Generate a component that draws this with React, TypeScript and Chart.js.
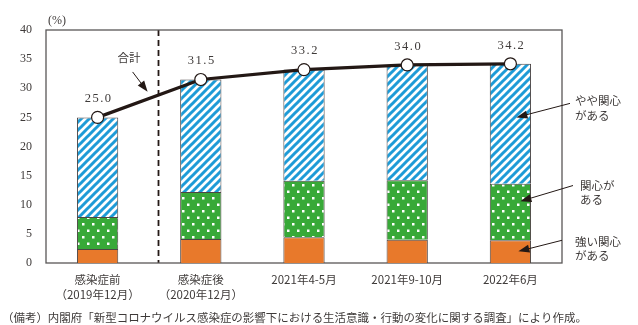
import React, { useEffect, useRef } from "react";
import { Chart, registerables } from "chart.js";

Chart.register(...registerables);

const categories: (string | string[])[] = [
  ["感染症前", "（2019年12月）"],
  ["感染症後", "（2020年12月）"],
  "2021年4-5月",
  "2021年9-10月",
  "2022年6月",
];
const strongInterest = [2.4, 4.1, 4.4, 4.0, 3.9];
const interest = [5.5, 8.1, 9.7, 10.2, 9.7];
const somewhatInterest = [17.1, 19.3, 19.1, 19.8, 20.6];
const total = [25.0, 31.5, 33.2, 34.0, 34.2];
const totalLabels = ["25.0", "31.5", "33.2", "34.0", "34.2"];
const yMax = 40;
const yStep = 5;
const footnote =
  "（備考）内閣府「新型コロナウイルス感染症の影響下における生活意識・行動の変化に関する調査」により作成。";

const SERIF = "'Liberation Serif', 'DejaVu Serif', 'Noto Sans CJK JP', serif";
const JP = "'Noto Sans CJK JP', sans-serif";
const TEXT = "#3e3a39";

function makeStripe(): CanvasPattern | string {
  const c = document.createElement("canvas");
  c.width = 8;
  c.height = 8;
  const g = c.getContext("2d");
  if (!g) return "#1e9bd7";
  g.fillStyle = "#ffffff";
  g.fillRect(0, 0, 8, 8);
  g.strokeStyle = "#1e9bd7";
  g.lineWidth = 3;
  g.beginPath();
  g.moveTo(-2, 2);
  g.lineTo(2, -2);
  g.moveTo(0, 8);
  g.lineTo(8, 0);
  g.moveTo(6, 10);
  g.lineTo(10, 6);
  g.stroke();
  return g.createPattern(c, "repeat") as CanvasPattern;
}

function makeDots(): CanvasPattern | string {
  const c = document.createElement("canvas");
  c.width = 10;
  c.height = 13;
  const g = c.getContext("2d");
  if (!g) return "#3aab3a";
  g.fillStyle = "#38a938";
  g.fillRect(0, 0, 10, 13);
  g.fillStyle = "#ffffff";
  g.fillRect(2, 2, 2.5, 2.5);
  g.fillRect(7, 8.5, 2.5, 2.5);
  return g.createPattern(c, "repeat") as CanvasPattern;
}

function arrow(ctx: CanvasRenderingContext2D, x1: number, y1: number, x2: number, y2: number) {
  const ang = Math.atan2(y2 - y1, x2 - x1);
  const len = 11;
  const half = 4;
  ctx.save();
  ctx.strokeStyle = "#231815";
  ctx.fillStyle = "#231815";
  ctx.lineWidth = 1;
  ctx.beginPath();
  ctx.moveTo(x1, y1);
  ctx.lineTo(x2 - Math.cos(ang) * len * 0.8, y2 - Math.sin(ang) * len * 0.8);
  ctx.stroke();
  ctx.beginPath();
  ctx.moveTo(x2, y2);
  const bx = x2 - Math.cos(ang) * len;
  const by = y2 - Math.sin(ang) * len;
  ctx.lineTo(bx + Math.sin(ang) * half, by - Math.cos(ang) * half);
  ctx.lineTo(bx - Math.sin(ang) * half, by + Math.cos(ang) * half);
  ctx.closePath();
  ctx.fill();
  ctx.restore();
}

const decorations = {
  id: "decorations",
  beforeDatasetsDraw(chart: any) {
    const { ctx, chartArea, scales } = chart;
    const x = scales.x;
    ctx.save();
    const dx = x.getPixelForValue(0) + (x.getPixelForValue(1) - x.getPixelForValue(0)) * 0.59;
    ctx.strokeStyle = "#231815";
    ctx.lineWidth = 1.8;
    ctx.setLineDash([6, 4]);
    ctx.beginPath();
    ctx.moveTo(Math.round(dx) + 0.5, chartArea.top);
    ctx.lineTo(Math.round(dx) + 0.5, chartArea.bottom);
    ctx.stroke();
    ctx.setLineDash([]);
    ctx.strokeStyle = "#595757";
    ctx.lineWidth = 1.3;
    ctx.strokeRect(chartArea.left, chartArea.top, chartArea.right - chartArea.left, chartArea.bottom - chartArea.top);
    ctx.restore();
  },
  afterDraw(chart: any) {
    const { ctx, chartArea, scales } = chart;
    const x = scales.x;
    const y = scales.y;
    ctx.save();
    ctx.fillStyle = TEXT;
    ctx.textBaseline = "middle";

    ctx.font = `12px ${SERIF}`;
    ctx.textAlign = "left";
    ctx.fillText("(%)", chartArea.left + 2, chartArea.top - 9);

    const meta = chart.getDatasetMeta(3);
    ctx.font = `12.5px ${SERIF}`;
    ctx.textAlign = "center";
    (ctx as any).letterSpacing = "1.5px";
    meta.data.forEach((pt: any, i: number) => {
      ctx.fillText(totalLabels[i], pt.x + 1, pt.y - 18.5);
    });
    (ctx as any).letterSpacing = "0px";

    ctx.font = `11.5px ${JP}`;
    ctx.textAlign = "left";
    ctx.fillText("合計", x.getPixelForValue(0) + 20, y.getPixelForValue(35.2));
    arrow(ctx, x.getPixelForValue(0) + 35, y.getPixelForValue(32.8), x.getPixelForValue(0) + 50, y.getPixelForValue(29.4));

    const tx = chartArea.right + 13;
    ctx.fillText("やや関心", tx, y.getPixelForValue(27.9));
    ctx.fillText("がある", tx, y.getPixelForValue(25.3));
    arrow(ctx, chartArea.right + 8, y.getPixelForValue(27.4), x.getPixelForValue(4) + 6, y.getPixelForValue(25.0));

    ctx.fillText("関心が", tx + 5, y.getPixelForValue(13.3));
    ctx.fillText("ある", tx + 5, y.getPixelForValue(10.9));
    arrow(ctx, chartArea.right + 11, y.getPixelForValue(13.3), x.getPixelForValue(4) + 10, y.getPixelForValue(10.6));

    ctx.fillText("強い関心", tx, y.getPixelForValue(3.7));
    ctx.fillText("がある", tx, y.getPixelForValue(1.2));
    arrow(ctx, chartArea.right, y.getPixelForValue(3.9), x.getPixelForValue(4) + 8, y.getPixelForValue(2.0));

    ctx.font = `11.3px ${JP}`;
    const w = ctx.measureText(footnote).width;
    const target = 585;
    const size = (11.3 * target) / w;
    ctx.font = `${size.toFixed(2)}px ${JP}`;
    ctx.fillText(footnote, 2, 318);
    ctx.restore();
  },
};

export default function App() {
  const ref = useRef<HTMLCanvasElement | null>(null);
  useEffect(() => {
    if (!ref.current) return;
    const stripe = makeStripe();
    const dots = makeDots();
    const border = "#4d4544";
    const chart = new Chart(ref.current, {
      type: "bar",
      data: {
        labels: categories as any,
        datasets: [
          {
            type: "bar",
            label: "強い関心がある",
            data: strongInterest,
            backgroundColor: "#e8792b",
            borderColor: border,
            borderWidth: 1,
            stack: "a",
            order: 1,
          },
          {
            type: "bar",
            label: "関心がある",
            data: interest,
            backgroundColor: dots as any,
            borderColor: border,
            borderWidth: 1,
            stack: "a",
            order: 1,
          },
          {
            type: "bar",
            label: "やや関心がある",
            data: somewhatInterest,
            backgroundColor: stripe as any,
            borderColor: border,
            borderWidth: 1,
            stack: "a",
            order: 1,
          },
          {
            type: "line",
            label: "合計",
            data: total,
            borderColor: "#231815",
            borderWidth: 3.2,
            pointRadius: 6,
            pointBackgroundColor: "#ffffff",
            pointBorderColor: "#231815",
            pointBorderWidth: 1.2,
            stack: "total",
            order: 0,
            tension: 0,
          } as any,
        ],
      },
      options: {
        responsive: false,
        animation: false,
        layout: { padding: { left: 0, right: 76, top: 30, bottom: 0 } },
        plugins: {
          legend: { display: false },
          tooltip: { enabled: false },
        },
        datasets: {
          bar: { categoryPercentage: 1, barPercentage: 0.4 },
        } as any,
        scales: {
          x: {
            stacked: true,
            grid: { display: false, drawTicks: false },
            border: { display: false },
            ticks: {
              color: TEXT,
              padding: 9,
              maxRotation: 0,
              autoSkip: false,
              font: { family: JP, size: 11.5, lineHeight: 1.3 },
            },
            afterFit: (s: any) => {
              s.height = 62;
            },
          },
          y: {
            stacked: true,
            min: 0,
            max: yMax,
            grid: { display: false, drawTicks: false },
            border: { display: false },
            ticks: {
              stepSize: yStep,
              color: TEXT,
              padding: 14,
              font: { family: SERIF, size: 12 },
            },
            afterFit: (s: any) => {
              s.width = 46;
            },
          },
        },
      },
      plugins: [decorations],
    });
    return () => chart.destroy();
  }, []);
  return (
    <div style={{ position: "fixed", left: 0, top: 0, width: 638, height: 325, background: "#fff" }}>
      <canvas ref={ref} width={638} height={325} style={{ display: "block" }} />
    </div>
  );
}
